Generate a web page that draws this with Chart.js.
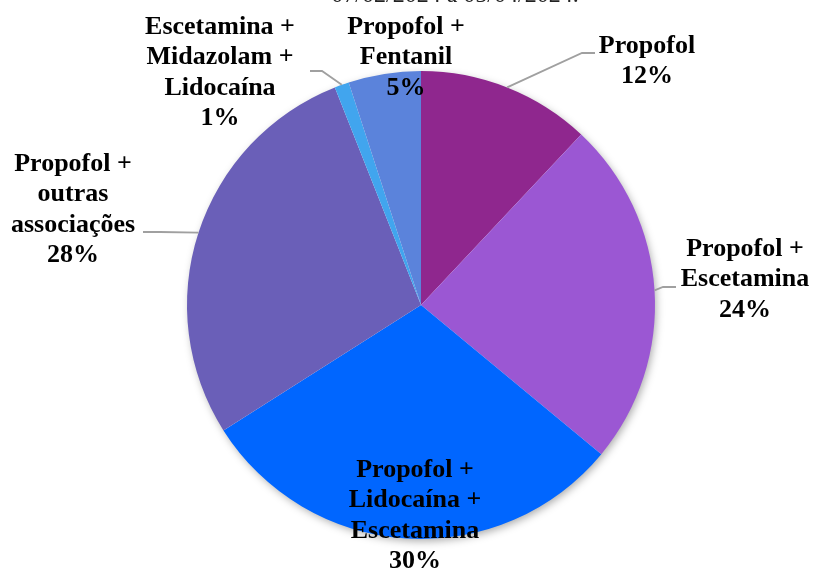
<!DOCTYPE html>
<html>
<head>
<meta charset="utf-8">
<script src="https://cdn.jsdelivr.net/npm/chart.js@4/dist/chart.umd.min.js"></script>
<style>
  html, body { margin: 0; padding: 0; background: #fff; }
  #wrap { width: 813px; height: 572px; position: relative; }
</style>
</head>
<body>
<div id="wrap"><canvas id="sedacao"></canvas></div>
<script>
const categories = [
    ["Propofol"],
    ["Propofol +", "Escetamina"],
    ["Propofol +", "Lidocaína +", "Escetamina"],
    ["Propofol +", "outras", "associações"],
    ["Escetamina +", "Midazolam +", "Lidocaína"],
    ["Propofol +", "Fentanil"]
];
const percentages = [12, 24, 30, 28, 1, 5];
const sliceColors = ["#8F278E", "#9B57D3", "#0066FF", "#6A5FB8", "#41A5EE", "#5B83DB"];

// where each label block sits (centre x, first line y) and whether it gets a leader line
const labelLayout = [
    { x: 647, y: 46, leader: [[582, 53], [595, 53]] },
    { x: 745, y: 249, leader: [[663, 287], [676, 287]] },
    { x: 415, y: 470, leader: null },
    { x: 73, y: 164, leader: [[160, 232], [143, 232]] },
    { x: 220, y: 27, leader: [[322, 71], [310, 71]] },
    { x: 406, y: 27, leader: null }
];

const FONT = '"Liberation Serif", "Times New Roman", serif';

const pieExtras = {
    id: "pieExtras",
    beforeDatasetsDraw(chart) {
        // soft shadow under the whole pie
        const arc = chart.getDatasetMeta(0).data[0];
        const ctx = chart.ctx;
        ctx.save();
        ctx.shadowColor = "rgba(0,0,0,0.35)";
        ctx.shadowBlur = 9;
        ctx.shadowOffsetX = 2;
        ctx.shadowOffsetY = 3;
        ctx.fillStyle = "#fff";
        ctx.beginPath();
        ctx.arc(arc.x, arc.y, arc.outerRadius - 1, 0, Math.PI * 2);
        ctx.fill();
        ctx.restore();
    },
    afterDatasetsDraw(chart) {
        const ctx = chart.ctx;
        const arcs = chart.getDatasetMeta(0).data;
        ctx.save();

        // second line of the title, mostly above the top edge
        ctx.font = "24px " + FONT;
        ctx.fillStyle = "#222";
        ctx.textAlign = "center";
        ctx.textBaseline = "alphabetic";
        ctx.fillText("07/02/2024 a 05/04/2024.", 455, 2);

        arcs.forEach((arc, i) => {
            const layout = labelLayout[i];
            if (layout.leader) {
                const mid = (arc.startAngle + arc.endAngle) / 2;
                const sx = arc.x + Math.cos(mid) * arc.outerRadius;
                const sy = arc.y + Math.sin(mid) * arc.outerRadius;
                ctx.strokeStyle = "#A0A0A0";
                ctx.lineWidth = 1.8;
                ctx.beginPath();
                ctx.moveTo(sx, sy);
                layout.leader.forEach(p => ctx.lineTo(p[0], p[1]));
                ctx.stroke();
            }
            const lines = categories[i].concat([percentages[i] + "%"]);
            ctx.font = "bold 26px " + FONT;
            ctx.fillStyle = "#000";
            ctx.textAlign = "center";
            ctx.textBaseline = "middle";
            lines.forEach((t, k) => ctx.fillText(t, layout.x, layout.y + k * 30.5));
        });
        ctx.restore();
    }
};

new Chart(document.getElementById("sedacao"), {
    type: "pie",
    data: {
        labels: categories.map(c => c.join(" ")),
        datasets: [{
            data: percentages,
            backgroundColor: sliceColors,
            borderWidth: 0
        }]
    },
    options: {
        responsive: true,
        maintainAspectRatio: false,
        animation: false,
        layout: { padding: { top: 71, bottom: 33, left: 187, right: 158 } },
        plugins: {
            legend: { display: false },
            tooltip: { enabled: false },
            title: { display: false }
        }
    },
    plugins: [pieExtras]
});
</script>
</body>
</html>
